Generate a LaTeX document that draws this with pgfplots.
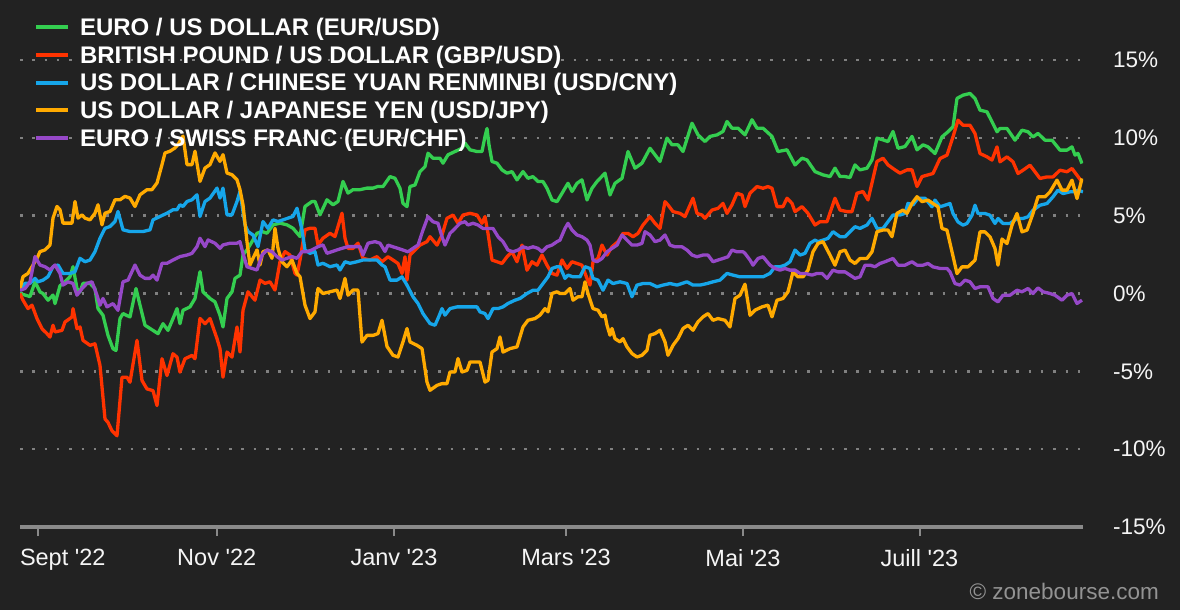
\documentclass[border=0pt]{standalone}
\usepackage{fontspec}
\setmainfont{Liberation Sans}
\usepackage{pgfplots}
\pgfplotsset{compat=1.18}
\usepackage{pgfplotstable}
\definecolor{bgc}{RGB}{34,34,34}
\definecolor{axisgray}{RGB}{138,138,138}
\definecolor{gridgray}{RGB}{128,128,128}
\definecolor{labelc}{RGB}{245,245,245}
\definecolor{cgreen}{RGB}{52,206,80}
\definecolor{cred}{RGB}{255,51,0}
\definecolor{cblue}{RGB}{22,166,234}
\definecolor{corange}{RGB}{255,170,0}
\definecolor{cpurple}{RGB}{150,72,200}

\pgfplotstableread{
x y
20 0
25 -0.1
30 -0.2
35 0.75
40 0.1
43 0
48 -0.43
53 -0.1
55 -0.65
60 0.5
65 0.75
70 1.08
73 1.72
77 0.32
80 0.1
83 0.65
90 0.65
95 0.32
98 -0.97
103 -1.4
108 -2.69
113 -3.55
116 -3.66
120 -1.61
123 -1.29
130 -1.51
136 0.32
140 -0.75
145 -2.04
153 -2.37
158 -2.58
163 -1.94
168 -2.37
173 -1.61
177 -0.97
180 -1.94
183 -1.08
190 -0.86
195 -0.32
200 1.4
203 0.11
210 -0.32
215 -0.54
220 -1.4
223 -2.15
227 -0.32
232 0.11
235 0.97
240 1.18
243 2.47
248 2.9
257 3.87
262 3.98
267 3.87
273 4.41
280 4.52
287 4.41
293 4.19
300 3.66
305 5.59
312 5.91
315 5.91
320 5.05
327 6.02
333 5.7
338 5.91
343 7.2
348 6.45
353 6.67
360 6.67
367 6.77
373 6.77
378 6.88
383 6.87
390 7.51
395 7.4
400 6.76
403 5.79
407 5.58
410 6.87
415 6.97
420 7.83
425 8.15
428 9.01
433 8.69
440 8.69
443 8.37
448 8.91
455 9.12
462 9.33
465 9.66
470 9.23
477 9.12
482 9.12
485 10.09
487 10.6
489 9.55
492 8.48
497 8.37
502 7.94
507 7.73
512 7.83
517 7.3
523 7.83
528 7.4
533 7.51
538 7.19
543 7.19
547 6.76
552 6.01
557 5.9
560 6.22
565 6.76
568 7.08
572 6.55
577 7.08
582 7.3
587 6.01
592 6.76
597 7.19
605 7.73
610 6.33
615 7.08
622 7.4
628 9.12
635 8.05
642 8.37
650 9.33
655 8.91
660 8.48
667 9.98
672 9.55
678 9.55
683 9.12
692 10.94
698 10.19
705 9.76
710 10.09
717 10.19
723 10.41
727 11.05
732 10.62
738 10.62
745 10.19
752 11.16
757 10.62
763 10.62
772 10.09
778 9.12
787 9.23
795 8.26
802 8.69
807 8.58
815 7.83
823 7.62
830 7.51
835 8.05
840 7.51
845 7.51
850 7.45
855 8.26
860 7.94
867 8.05
872 8.58
877 9.98
883 9.87
888 9.76
893 10.41
898 9.33
905 9.44
912 10.09
917 9.23
923 9.55
928 9.42
935 8.99
942 10.06
948 10.39
953 10.71
957 12.53
963 12.74
970 12.85
975 12.53
980 11.78
987 11.67
992 11.03
997 10.39
1000 10.6
1007 10.6
1015 9.85
1022 10.49
1028 10.39
1033 10.06
1038 10.28
1045 9.85
1052 9.85
1060 9.21
1067 9.21
1072 9.42
1075 8.89
1078 9.0
1082 8.35
}\eurusd

\pgfplotstableread{
x y
20 0
23 -0.43
28 -0.97
32 -0.75
37 -1.61
42 -2.26
47 -2.58
50 -2.8
53 -2.04
55 -2.47
62 -2.37
65 -1.83
72 -1.51
73 -0.97
77 -2.26
80 -2.15
83 -3.01
90 -3.33
95 -3.23
100 -4.62
105 -8.06
108 -8.28
112 -8.82
117 -9.14
122 -5.38
127 -5.38
130 -5.7
137 -3.01
142 -5.59
147 -6.13
153 -6.24
157 -7.2
162 -4.19
167 -5.27
173 -3.87
177 -4.09
180 -5.05
185 -4.19
192 -3.98
195 -4.19
200 -1.6
205 -1.94
210 -1.61
217 -2.9
220 -3.55
223 -5.38
227 -3.76
232 -4.09
237 -2.15
240 -3.76
243 -1.08
248 0.11
255 -0.43
260 0.86
265 0.65
270 0.75
275 0.22
280 2.04
285 2.69
290 2.47
295 1.29
297 1.18
300 2.15
305 4.09
310 4.19
315 4.19
318 3.12
323 3.55
330 3.87
335 3.66
342 5.16
345 3.55
348 2.9
353 2.9
358 3.23
363 2.26
370 2.15
377 2.37
382 2.04
388 2.36
393 2.15
398 1.93
402 1.29
405 2.36
407 0.86
410 2.47
415 2.79
420 3.11
427 3.33
430 3.65
437 3.11
442 3.76
447 4.83
453 5.04
458 4.51
463 5.04
470 5.15
477 5.04
482 4.51
485 4.94
488 3.86
492 2.15
497 2.04
502 1.93
507 2.36
512 2.68
517 2.04
522 3.11
527 1.5
532 2.04
537 1.82
542 2.47
547 1.82
552 1.29
557 1.18
562 2.15
567 1.61
572 2.04
577 1.93
582 1.82
587 0.97
590 0.54
593 2.04
598 2.25
602 3.11
607 2.47
612 3.0
618 3.33
623 3.86
628 3.86
633 3.65
638 3.86
643 4.4
650 4.94
655 4.51
660 4.18
665 5.9
668 5.69
673 5.26
680 5.15
685 4.94
693 6.12
697 5.15
702 5.04
705 4.83
712 5.36
718 5.47
723 5.79
727 5.15
732 5.69
737 6.44
742 6.33
745 5.58
750 6.44
757 6.87
763 6.76
768 6.87
772 6.76
777 5.58
783 5.58
787 6.12
792 5.79
795 5.26
802 5.58
808 5.15
815 4.4
820 4.61
827 4.61
835 6.12
840 5.36
847 5.26
852 5.26
857 6.44
863 6.55
868 6.01
877 8.48
883 8.69
888 8.26
895 7.94
900 7.73
907 7.94
912 7.94
917 6.87
922 7.51
927 7.6
933 7.71
940 8.67
947 8.89
953 10.06
958 11.13
963 10.81
970 10.81
975 10.28
980 8.99
987 8.78
992 8.57
997 9.42
1000 8.46
1007 8.78
1013 8.46
1018 7.71
1023 7.92
1030 8.24
1035 7.82
1040 7.39
1047 7.49
1053 7.49
1060 7.92
1067 7.82
1072 8.03
1077 7.6
1082 7.17
}\gbpusd

\pgfplotstableread{
x y
20 0.2
25 0.65
30 0.65
35 0.97
38 0.75
43 0.86
48 1.08
53 1.72
58 1.83
63 1.29
70 1.29
75 1.4
80 2.26
85 2.04
90 2.15
95 2.69
100 3.55
105 4.19
110 4.3
115 4.62
118 5.27
123 4.09
130 3.98
137 3.98
143 3.98
150 4.09
153 4.73
160 4.95
167 5.16
173 5.38
177 5.38
180 5.7
183 5.59
187 5.91
192 6.02
197 6.34
200 4.95
205 5.91
210 6.13
217 6.77
220 6.13
223 6.77
227 5.05
232 5.05
237 5.91
240 6.56
245 4.41
248 3.98
253 3.76
258 3.01
263 4.62
268 4.19
273 4.73
278 4.62
283 4.73
288 4.84
293 4.95
297 5.48
302 4.09
305 2.8
310 2.58
315 2.69
318 1.83
323 1.94
330 1.72
337 1.83
340 1.51
345 2.04
350 1.94
357 2.04
363 2.15
370 2.15
377 2.15
382 1.83
385 1.72
390 0.86
397 0.86
402 1.07
407 0.54
413 -0.21
418 -0.64
423 -1.29
430 -1.93
435 -2.04
438 -1.61
442 -0.97
445 -1.39
450 -0.97
457 -0.86
463 -0.86
470 -0.86
477 -0.86
480 -1.18
485 -1.29
488 -1.61
493 -0.97
498 -0.97
503 -0.86
508 -0.64
515 -0.43
520 -0.32
527 0
533 0.21
538 0.21
543 0.64
548 1.07
552 1.61
557 1.72
560 1.72
565 0.97
568 1.18
573 1.07
580 1.07
585 1.72
590 1.61
593 0.97
598 0.86
603 0.21
608 0.86
613 0.64
620 0.75
627 0.64
632 -0.21
637 0.54
643 0.64
650 0.64
657 0.43
663 0.54
670 0.64
677 0.54
687 0.75
693 0.54
700 0.54
707 0.64
713 0.75
720 0.86
727 1.29
733 1.18
740 1.07
750 1.07
757 1.07
763 1.07
770 1.29
775 1.72
780 1.72
785 1.82
790 2.04
795 2.79
800 2.47
805 2.58
810 3.22
815 3.43
818 3.33
823 3.43
828 3.54
833 3.97
840 3.65
845 3.65
850 3.97
855 4.29
860 4.18
867 4.4
872 4.83
877 4.18
883 4.18
888 4.61
893 5.04
900 5.04
905 5.15
908 5.79
913 5.69
918 6.12
925 6.12
932 5.57
935 6.0
940 5.57
945 5.67
950 5.78
953 5.14
958 4.6
963 4.39
967 4.5
972 5.03
975 5.67
978 5.14
985 5.14
990 5.03
995 4.5
998 4.82
1003 4.5
1010 4.5
1017 4.82
1023 4.82
1028 4.93
1033 5.35
1040 5.67
1047 5.78
1053 6.21
1058 6.64
1063 6.42
1070 6.53
1075 6.53
1078 6.64
1083 6.53
}\usdcny

\pgfplotstableread{
x y
20 0.3
23 1.08
28 1.29
32 1.72
37 2.26
40 2.69
45 2.8
50 3.12
53 4.84
57 5.59
60 5.38
63 4.52
67 4.52
72 4.52
75 5.91
78 4.84
82 5.05
85 4.84
90 4.73
95 5.16
98 5.7
102 4.41
105 5.16
110 5.27
115 6.02
120 6.02
125 6.24
130 6.13
135 5.59
140 6.34
147 6.67
152 6.67
157 7.1
162 8.28
165 9.03
170 9.14
175 9.35
178 9.57
183 10.11
187 8.28
192 8.28
195 9.14
200 7.2
205 8.06
210 8.28
215 9.03
220 8.49
223 8.92
227 7.74
232 7.63
237 7.31
240 6.67
243 5.7
247 3.33
250 1.83
253 2.26
257 2.8
260 1.83
263 2.69
268 2.8
272 2.26
275 4.19
278 2.9
282 2.04
287 1.72
292 2.15
297 1.29
300 1.08
305 -0.75
310 -1.61
315 -1.18
318 0.32
323 0
330 0.11
337 0.22
340 -0.32
345 0.97
348 -0.11
353 0.22
358 0.22
362 -3.12
367 -2.69
373 -2.69
378 -2.58
382 -1.72
387 -3.4
393 -3.97
398 -4.08
403 -3.11
407 -2.25
410 -3.11
417 -3.33
422 -3.54
427 -5.69
430 -6.22
437 -5.9
442 -5.79
447 -5.79
450 -5.04
455 -5.04
458 -4.18
462 -5.04
467 -4.94
470 -4.4
475 -4.4
480 -4.4
485 -5.69
488 -5.58
492 -3.76
497 -3.54
500 -2.79
503 -3.76
510 -3.54
517 -3.43
523 -2.15
528 -1.72
535 -1.61
540 -1.39
545 -0.97
548 -1.18
552 0
557 0.11
560 0
565 0
570 0.32
573 -0.43
578 -0.21
582 -0.21
585 0.75
588 0
593 -0.97
598 -1.07
602 -1.5
605 -1.39
607 -2.04
610 -2.68
612 -2.25
615 -2.9
620 -3.11
623 -2.9
627 -3.43
632 -3.86
637 -4.08
642 -3.97
647 -3.65
650 -2.68
655 -2.58
660 -2.36
665 -3.11
668 -3.97
673 -3.33
678 -2.9
683 -2.25
688 -2.04
693 -2.36
698 -1.82
703 -1.5
708 -1.29
713 -1.72
718 -1.61
725 -1.72
730 -2.15
735 -0.32
740 -0.11
745 0.6
750 -1.4
755 -1.07
762 -0.86
768 -0.75
772 -1.5
777 -0.43
783 -0.32
788 0.11
793 1.39
798 1.07
803 1.07
808 1.5
813 2.68
818 3.22
823 3.33
830 2.47
835 1.82
840 2.68
845 2.79
850 2.15
855 1.93
860 2.25
867 2.25
872 2.68
877 3.97
883 4.08
888 4.08
892 3.65
897 5.15
903 5.36
907 5.15
912 5.79
917 6.22
922 5.9
928 6.0
933 5.78
938 5.57
942 4.18
947 4.07
952 2.68
957 1.28
962 1.71
968 1.71
975 2.14
980 3.96
985 3.96
990 3.64
995 2.89
998 1.82
1002 3.5
1007 3.21
1012 4.39
1017 5.14
1022 3.96
1027 4.07
1033 5.14
1038 6.21
1045 6.21
1050 6.53
1057 7.28
1062 6.64
1067 6.64
1072 7.28
1077 6.1
1082 7.39
}\usdjpy

\pgfplotstableread{
x y
20 0.2
25 0.32
30 0.75
35 2.37
40 1.83
45 1.72
50 1.51
55 1.83
60 1.29
63 0.54
68 0.75
73 0.65
77 -0.11
82 0.32
87 0.65
92 0.75
97 -0.11
100 -0.75
103 -0.32
107 -0.86
113 -0.65
118 -1.08
123 0.75
128 0.86
135 1.83
140 1.18
145 0.97
150 0.97
153 1.18
157 0.86
162 1.94
167 1.94
173 2.15
180 2.37
187 2.47
192 2.58
197 3.01
200 3.55
205 3.01
208 3.44
215 3.23
220 2.9
223 3.12
230 3.23
237 3.23
240 3.33
243 2.58
247 1.72
252 1.61
257 1.51
262 2.47
267 2.8
272 2.69
277 2.37
282 2.15
287 2.26
292 2.37
297 2.26
302 2.69
307 2.69
312 2.8
318 3.01
323 3.12
327 2.58
332 2.69
337 2.8
342 2.9
348 3.01
355 3.01
360 3.01
363 2.47
368 3.23
375 3.33
380 3.23
385 2.7
388 3.11
393 3.0
398 2.9
403 2.79
408 2.68
413 2.9
418 3.11
423 4.08
428 4.94
433 4.61
438 4.51
442 3.65
445 3.11
450 3.86
455 4.18
460 4.51
465 4.61
468 4.4
473 4.51
478 4.4
483 4.18
488 4.18
493 4.18
498 3.65
503 3.33
508 2.79
513 2.68
518 2.79
523 3.0
528 2.9
533 3.0
538 2.9
542 2.68
547 3.0
552 3.11
557 3.33
560 3.43
565 4.18
568 4.51
572 4.08
577 3.76
582 3.65
587 3.43
590 3.11
593 2.15
597 2.04
602 2.25
607 2.68
612 2.9
617 3.11
622 3.76
627 3.43
632 3.11
637 3.11
642 3.22
645 3.97
650 3.76
655 3.33
660 3.43
665 3.76
670 3.11
675 3.0
682 3.0
687 2.79
692 2.47
697 2.36
703 2.47
708 2.47
713 2.04
718 2.15
723 2.25
728 2.36
732 2.79
737 2.68
743 2.68
745 2.58
750 2.15
753 1.82
758 2.25
763 2.36
770 1.82
775 1.61
780 1.5
785 1.61
790 1.5
795 1.5
800 1.29
805 1.29
812 1.18
817 1.29
822 1.29
827 0.97
833 1.5
838 1.39
845 1.39
850 1.18
855 0.97
860 1.07
865 1.82
870 1.82
875 1.72
880 1.93
885 2.04
893 2.25
898 1.82
905 1.82
912 2.04
917 1.82
923 1.82
928 1.93
933 1.71
940 1.61
947 1.61
950 1.39
955 0.64
960 0.54
965 0.86
970 0.75
975 0.32
980 0.43
988 0.43
993 -0.32
998 -0.54
1003 -0.11
1010 -0.11
1017 0.21
1022 0.11
1028 0.32
1033 0
1038 0.36
1043 0.11
1050 0
1055 -0.11
1062 -0.43
1067 -0.11
1072 0
1077 -0.64
1082 -0.43
}\eurchf

\begin{document}
\begin{tikzpicture}
\fill[bgc] (-20bp,-83bp) rectangle (1160bp,527bp);
\begin{axis}[
  at={(0,0)}, anchor=south west,
  scale only axis, width=1063bp, height=467bp,
  xmin=20, xmax=1083, ymin=-15, ymax=15,
  axis x line*=bottom, axis y line*=right,
  x axis line style={draw=axisgray, line width=3bp, -},
  y axis line style={draw=none},
  xtick={37.6,216.7,394,566,743,919.5},
  xticklabels={\makebox[0pt][l]{\kern-17.6bp Sept \textquotesingle22},
    Nov \textquotesingle22, Janv \textquotesingle23, Mars \textquotesingle23,
    Mai \textquotesingle23, Juill \textquotesingle23},
  ytick={-15,-10,-5,0,5,10,15},
  yticklabels={-15\%,-10\%,-5\%,0\%,5\%,10\%,15\%},
  ymajorgrids,
  grid style={gridgray, line width=2.5bp, dash pattern=on 2.5bp off 9.8bp},
  xtick style={draw=axisgray, line width=2bp},
  ytick style={draw=none},
  tick align=outside, major tick length=9bp,
  xticklabel style={font=\fontsize{23.5bp}{28bp}\selectfont, text=labelc, inner sep=0pt, yshift=-13bp},
  yticklabel style={font=\fontsize{22.5bp}{27bp}\selectfont, text=labelc, inner sep=0pt, anchor=west, xshift=21bp},
  every axis plot/.append style={line width=3.3bp, line join=round},
  legend image code/.code={\draw[#1, line width=4bp] (0bp,0bp) -- (32bp,0bp);},
  legend style={at={(axis description cs:0,1)}, anchor=north west, xshift=14bp, yshift=42bp,
    draw=none, fill=none, inner sep=0pt, outer sep=0pt,
    row sep=8.8bp, column sep=10bp,
    font=\bfseries\fontsize{24bp}{28bp}\selectfont, text=white,
    nodes={inner sep=0pt}},
  legend cell align=left,
]
\addplot[cgreen] table[x=x,y=y] {\eurusd};
\addlegendentry{EURO / US DOLLAR (EUR/USD)}
\addplot[cred] table[x=x,y=y] {\gbpusd};
\addlegendentry{BRITISH POUND / US DOLLAR (GBP/USD)}
\addplot[cblue] table[x=x,y=y] {\usdcny};
\addlegendentry{US DOLLAR / CHINESE YUAN RENMINBI (USD/CNY)}
\addplot[corange] table[x=x,y=y] {\usdjpy};
\addlegendentry{US DOLLAR / JAPANESE YEN (USD/JPY)}
\addplot[cpurple] table[x=x,y=y] {\eurchf};
\addlegendentry{EURO / SWISS FRANC (EUR/CHF)}
\end{axis}
\node[anchor=base east, inner sep=0pt, text=gray!85, font=\fontsize{22.5bp}{27bp}\selectfont] at (1139bp,-72bp) {\textcopyright{} zonebourse.com};
\pgfresetboundingbox
\path[use as bounding box] (-20bp,-83bp) rectangle (1160bp,527bp);
\end{tikzpicture}
\end{document}
